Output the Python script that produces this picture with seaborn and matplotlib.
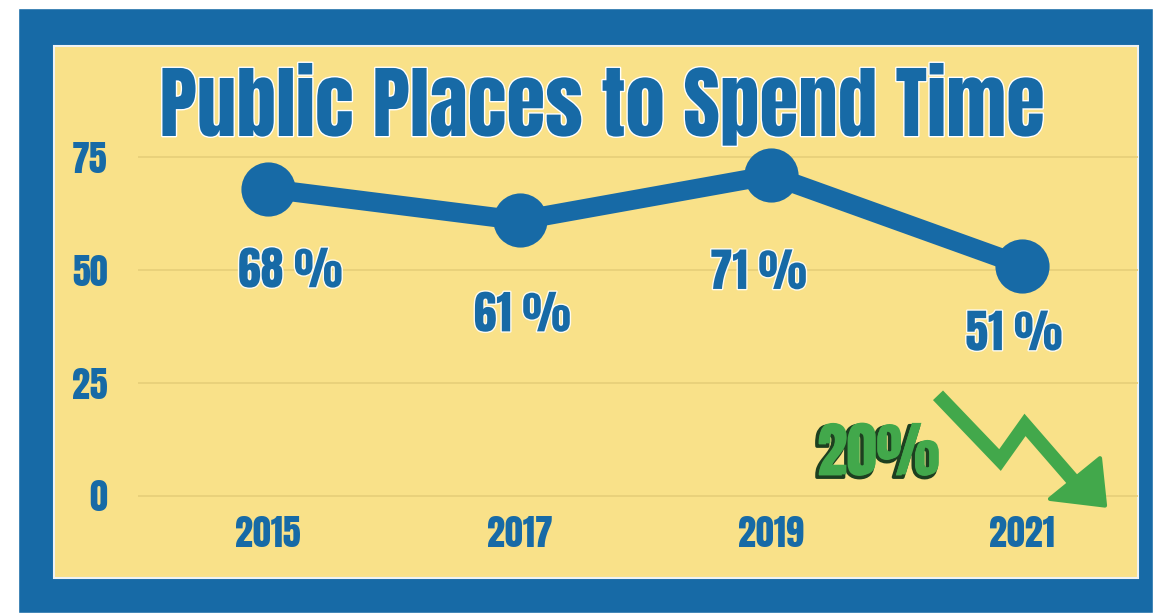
import seaborn as sns
import matplotlib.pyplot as plt
import matplotlib.patheffects as pe
from matplotlib.patches import Rectangle, Polygon
import pandas as pd

# data
years = [2015, 2017, 2019, 2021]
shares = [68, 61, 71, 51]
point_labels = ['68 %', '61 %', '71 %', '51 %']
y_ticks = [0, 25, 50, 75]
title = 'Public Places to Spend Time'
drop_label = '20%'

# label offsets below each point (points)
label_offsets = [(16, -59), (2, -68), (-9, -70), (-6, -49)]

blue = '#176aa6'
yellow = '#f9e189'
grid_col = '#e8d07a'
green = '#42a84b'

sns.set_theme(style='white')
plt.rcParams['font.family'] = ['Anton', 'DejaVu Sans']

W, H = 1153, 613
fig = plt.figure(figsize=(W / 100, H / 100), dpi=100)
fig.patch.set_facecolor('white')

# blue frame and yellow card
fig.patches.append(Rectangle((18 / W, 0), (W - 18) / W, (H - 8) / H,
                             transform=fig.transFigure, facecolor=blue, zorder=0))
fig.patches.append(Rectangle((54 / W, 1 - 578 / H), (1138 - 54) / W, (578 - 46) / H,
                             transform=fig.transFigure, facecolor=yellow,
                             edgecolor='#eef2f4', linewidth=1.5, zorder=0.5))

ax = fig.add_axes([138 / W, 1 - 510 / H, 1000 / W, 370 / H])
ax.set_zorder(2)
ax.set_facecolor('none')

df = pd.DataFrame({'year': years, 'share': shares})
sns.lineplot(data=df, x='year', y='share', ax=ax, color=blue, linewidth=14,
             marker='o', markersize=39, markeredgewidth=0, zorder=3)

ax.set_xlim(2013.965, 2021.92)
ax.set_ylim(-3.1, 78.8)
ax.set_xticks(years)
ax.set_yticks(y_ticks)
ax.set_xlabel('')
ax.set_ylabel('')
ax.yaxis.grid(True, color=grid_col, linewidth=1.3)
ax.xaxis.grid(False)
for s in ax.spines.values():
    s.set_visible(False)
ax.tick_params(axis='y', length=0, labelsize=26, labelcolor=blue, pad=22)
ax.tick_params(axis='x', length=0, labelsize=26, labelcolor=blue, pad=4)

outline = [pe.Stroke(linewidth=2, foreground='#fdfbf0'), pe.Normal()]
for yr, v, lab, off in zip(years, shares, point_labels, label_offsets):
    ax.annotate(lab, (yr, v), xytext=off, textcoords='offset points',
                ha='center', va='center', fontsize=33, color=blue,
                path_effects=outline)

# green drop marker
ax.plot([0.800, 0.862, 0.887, 0.940], [0.310, 0.135, 0.230, 0.065],
        transform=ax.transAxes, color=green, linewidth=10,
        solid_joinstyle='miter', solid_capstyle='butt', clip_on=False, zorder=4)
ax.add_patch(Polygon([(0.912, 0.030), (0.962, 0.140), (0.967, 0.012)],
                     closed=True, transform=ax.transAxes, facecolor=green,
                     edgecolor=green, linewidth=3, joinstyle='round',
                     clip_on=False, zorder=4))
ax.text(0.741, 0.157, drop_label, transform=ax.transAxes, ha='center', va='center',
        fontsize=43, color=green,
        path_effects=[pe.Stroke(offset=(-2, -2), linewidth=2.5, foreground='#1d3f20'),
                      pe.Normal()])

fig.text(602 / W, 1 - 104 / H, title, ha='center', va='center', fontsize=57,
         color=blue, path_effects=[pe.Stroke(linewidth=2, foreground='white'), pe.Normal()])

fig.savefig('out.png', dpi=100, facecolor=fig.get_facecolor())
